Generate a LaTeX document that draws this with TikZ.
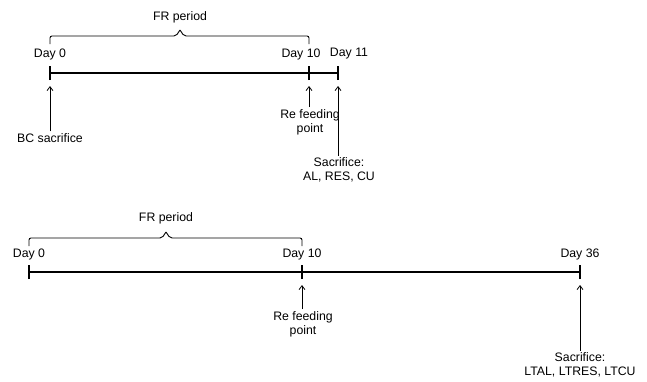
\documentclass[tikz,border=0pt]{standalone}
\usepackage{fontspec}
\setmainfont{Liberation Sans}
\usetikzlibrary{arrows.meta}
\begin{document}
\begin{tikzpicture}[x=1pt,y=-1pt,
  lbl/.style={inner sep=0pt,font=\fontsize{12.3}{14}\selectfont,align=center},
  axis/.style={line width=1.4pt},
  tick/.style={line width=1.8pt},
  pointer/.style={line width=0.8pt,-{Straight Barb[length=4pt,width=6pt,line width=0.8pt]}},
  bracket/.style={line width=0.9pt,rounded corners=2pt}]
\useasboundingbox (0,0) rectangle (647,381);
% ---------- top timeline ----------
\coordinate (t0) at (50,73);
\coordinate (t10) at (309,73);
\coordinate (t11) at (338,73);
\draw[axis] (t0) -- (t11);
\foreach \c in {t0,t10,t11} \draw[tick] ([yshift=-7pt]\c) -- ([yshift=7pt]\c);
\node[lbl] (d0) at (50,54) {Day 0};
\node[lbl] (d10) at (301,54) {Day 10};
\node[lbl] (d11) at (349,54) {Day 11};
\node[lbl] (fr1) at (180,17) {FR period};
\draw[bracket] (50,44) -- (50,36) -- (176,36) -- (180,30);
\draw[bracket] (180,30) -- (184,36) -- (309,36) -- (309,44);
\node[lbl] (bc) at (50,138) {BC sacrifice};
\node[lbl] (rf1) at (310,122) {Re feeding\\point};
\node[lbl] (s1) at (339,170) {Sacrifice:\\AL, RES, CU};
\draw[pointer] ([yshift=2pt]bc.north -| t0) -- ([yshift=-13pt]t0);
\draw[pointer] ([yshift=2pt]rf1.north -| t10) -- ([yshift=-13pt]t10);
\draw[pointer] ([yshift=2pt]s1.north -| t11) -- ([yshift=-13pt]t11);
% ---------- bottom timeline ----------
\coordinate (b0) at (29,272);
\coordinate (b10) at (302,272);
\coordinate (b36) at (580,272);
\draw[axis] (b0) -- (b36);
\foreach \c in {b0,b10,b36} \draw[tick] ([yshift=-7pt]\c) -- ([yshift=7pt]\c);
\node[lbl] (e0) at (29,254) {Day 0};
\node[lbl] (e10) at (302,254) {Day 10};
\node[lbl] (e36) at (580,254) {Day 36};
\node[lbl] (fr2) at (166,218) {FR period};
\draw[bracket] (29,246) -- (29,238) -- (162,238) -- (166,232);
\draw[bracket] (166,232) -- (170,238) -- (302,238) -- (302,246);
\node[lbl] (rf2) at (303,324) {Re feeding\\point};
\node[lbl] (s2) at (580,365) {Sacrifice:\\LTAL, LTRES, LTCU};
\draw[pointer] ([yshift=2pt]rf2.north -| b10) -- ([yshift=-13pt]b10);
\draw[pointer] ([yshift=2pt]s2.north -| b36) -- ([yshift=-13pt]b36);
\end{tikzpicture}
\end{document}
